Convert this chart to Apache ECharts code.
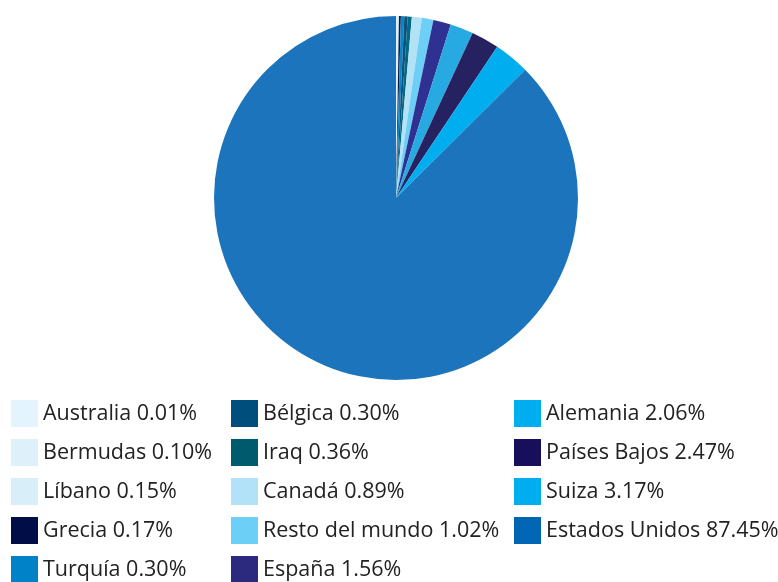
<!DOCTYPE html>
<html lang="es">
  <head>
    <meta charset="UTF-8" />
    <script src="https://cdn.jsdelivr.net/npm/echarts@6/dist/echarts.min.js"></script>
    <title>Pie</title>
    <style>
      html, body { margin: 0; padding: 0; background: #fff; }
      #container { width: 778px; height: 582px; }
    </style>
  </head>
  <body>
    <div id="container"></div>
    <script>
      // countries, sorted ascending, drawn clockwise from 12 o'clock
      const countries = [
        "Australia", "Bermudas", "Líbano", "Grecia", "Turquía",
        "Bélgica", "Iraq", "Canadá", "Resto del mundo", "España",
        "Alemania", "Países Bajos", "Suiza", "Estados Unidos",
      ];
      const shares = [
        0.01, 0.10, 0.15, 0.17, 0.30,
        0.30, 0.36, 0.89, 1.02, 1.56,
        2.06, 2.47, 3.17, 87.45,
      ];
      const sliceColors = [
        "#e6f4fc", "#dff1fb", "#d9eff9", "#0d1a4a", "#0a85c9",
        "#0b527f", "#006a83", "#b3e1f6", "#6dcff6", "#2e3192",
        "#27aae1", "#262262", "#00aeef", "#1c75bc",
      ];
      const legendColors = [
        "#e3f4fc", "#def0fa", "#d8eef9", "#000d47", "#0082c8",
        "#004e7c", "#005a6e", "#b2e2f8", "#6ccff6", "#2b2a7e",
        "#00aeef", "#170f5c", "#00aeef", "#0066b3",
      ];
      // legend columns (index ranges into countries)
      const legendCols = [[0, 5], [5, 10], [10, 14]];
      const legendLeft = [11, 231, 514];

      const chart = echarts.init(document.getElementById("container"));

      const shareOf = {};
      countries.forEach((c, i) => { shareOf[c] = shares[i]; });

      const legends = legendCols.map((r, k) => ({
        orient: "vertical",
        left: legendLeft[k],
        top: 400,
        height: 260,
        padding: 0,
        itemWidth: 27,
        itemHeight: 27,
        itemGap: 12,
        selectedMode: false,
        icon: "rect",
        textStyle: { fontFamily: "Open Sans", fontSize: 21.5, color: "#222" },
        formatter: (name) => name + " " + shareOf[name].toFixed(2) + "%",
        data: countries.slice(r[0], r[1]).map((c, j) => ({
          name: c,
          itemStyle: { color: legendColors[r[0] + j] },
        })),
      }));

      chart.setOption({
        animation: false,
        legend: legends,
        series: [
          {
            type: "pie",
            center: [396, 198],
            radius: 182,
            startAngle: 90,
            clockwise: true,
            label: { show: false },
            labelLine: { show: false },
            emphasis: { disabled: true },
            data: countries.map((c, i) => ({
              name: c,
              value: shares[i],
              itemStyle: { color: sliceColors[i] },
            })),
          },
        ],
      });
    </script>
  </body>
</html>
